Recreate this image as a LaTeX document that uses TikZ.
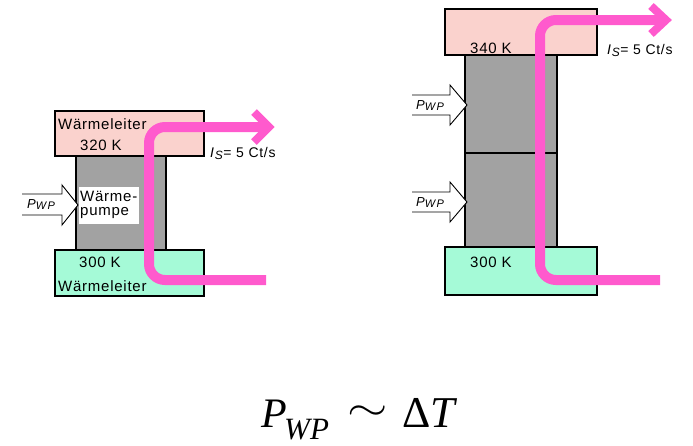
\documentclass[tikz,border=0pt]{standalone}
\usepackage{fontspec}
\setmainfont{Liberation Sans}
\newfontfamily\tnr{Liberation Serif}
\newfontfamily\spaced[LetterSpace=5]{Liberation Sans}
\newfontfamily\widespaced[LetterSpace=12]{Liberation Sans}
\begin{document}
\begin{tikzpicture}[x=1pt,y=-1pt,
  hotbox/.style={draw=black,line width=1.3pt,fill=hotpink},
  coldbox/.style={draw=black,line width=1.3pt,fill=coldgreen},
  pumpbox/.style={draw=black,line width=1.6pt,fill=pumpgray},
  flow/.style={draw=flowpink,line width=10pt,rounded corners=16pt},
  flowhead/.style={draw=flowpink,line width=8pt,line join=miter,line cap=butt},
  inarrow/.style={draw=black,line width=0.9pt,fill=white},
  lbl/.style={font=\spaced\fontsize{15}{15}\selectfont,inner sep=0pt},
  pw/.style={inner sep=0pt,anchor=base west},
  islbl/.style={anchor=base west,inner sep=0pt,font=\spaced\fontsize{14}{14}\selectfont},
  formula/.style={inner sep=0pt,anchor=base west,font=\tnr\itshape}
]
\definecolor{hotpink}{RGB}{250,210,205}
\definecolor{coldgreen}{RGB}{165,250,215}
\definecolor{pumpgray}{RGB}{162,162,162}
\definecolor{flowpink}{RGB}{255,90,205}
\newcommand{\pwp}{{\fontsize{13}{13}\selectfont\itshape P}\raisebox{-1.5pt}{\widespaced\fontsize{11}{11}\selectfont\itshape WP}}
\useasboundingbox (0,0) rectangle (693,445);
% ---------- left ----------
\path[hotbox] (55,111) rectangle (204,156);
\path[coldbox] (55,250) rectangle (204,296);
\path[pumpbox] (76,156) rectangle (166,250);
\fill[white] (79,187) rectangle (139,224);
\node[lbl,anchor=west] (wl1) at (58,124) {Wärmeleiter};
\node[lbl,anchor=west] (t320) at (80,145) {320 K};
\node[lbl,anchor=west] (t300a) at (79,262) {300 K};
\node[lbl,anchor=west] (wl2) at (58,286) {Wärmeleiter};
\node[lbl,anchor=west,align=left] (wp) at (80,205) {Wärme-\\[-1pt]pumpe};
\path[inarrow] (22,194) -- (62,194) -- (62,185) -- (78,205) -- (62,225) -- (62,215) -- (22,215);
\node[pw] (pin1) at (27,208) {\pwp};
\coordinate (l0) at (266,280);
\coordinate (l1) at (149,280);
\coordinate (l2) at (149,127);
\coordinate (l3) at (266,127);
\path[flow] (l0) -- (l1) -- (l2) -- (l3);
\path[flowhead] (254,112) -- (269,127) -- (254,142);
\node[islbl] (is1) at (210,157) {\textit{I}\raisebox{-2pt}{\fontsize{12}{12}\selectfont\textit{S}}= 5 Ct/s};
% ---------- right ----------
\path[hotbox] (445,9) rectangle (597,55);
\path[coldbox] (445,247) rectangle (597,295);
\path[pumpbox] (465,55) rectangle (557,247);
\draw[black,line width=1.6pt] (465,153) -- (557,153);
\node[lbl,anchor=west] (t340) at (470,48) {340 K};
\node[lbl,anchor=west] (t300b) at (470,262) {300 K};
\path[inarrow] (412,95) -- (450,95) -- (450,85) -- (467,105) -- (450,125) -- (450,115) -- (412,115);
\path[inarrow] (412,192) -- (450,192) -- (450,182) -- (467,202) -- (450,222) -- (450,212) -- (412,212);
\node[pw] (pin2) at (416,109) {\pwp};
\node[pw] (pin3) at (416,206) {\pwp};
\coordinate (r0) at (660,280);
\coordinate (r1) at (540,280);
\coordinate (r2) at (540,20);
\coordinate (r3) at (664,20);
\path[flow] (r0) -- (r1) -- (r2) -- (r3);
\path[flowhead] (651,6) -- (666,20) -- (651,34);
\node[islbl] (is2) at (607,54) {\textit{I}\raisebox{-2pt}{\fontsize{12}{12}\selectfont\textit{S}}= 5 Ct/s};
% ---------- formula ----------
\node[formula,font=\tnr\itshape\fontsize{42}{42}\selectfont] (fp) at (261,427) {P};
\node[formula,font=\tnr\itshape\fontsize{31}{31}\selectfont] (fwp) at (284,439) {WP};
\node[inner sep=0pt] (fsim) at (368,413) {\scalebox{5.2}[4]{$\sim$}};
\node[formula,font=\tnr\fontsize{44}{44}\selectfont] (fdt) at (402,427) {Δ\textit{T}};
\end{tikzpicture}
\end{document}
